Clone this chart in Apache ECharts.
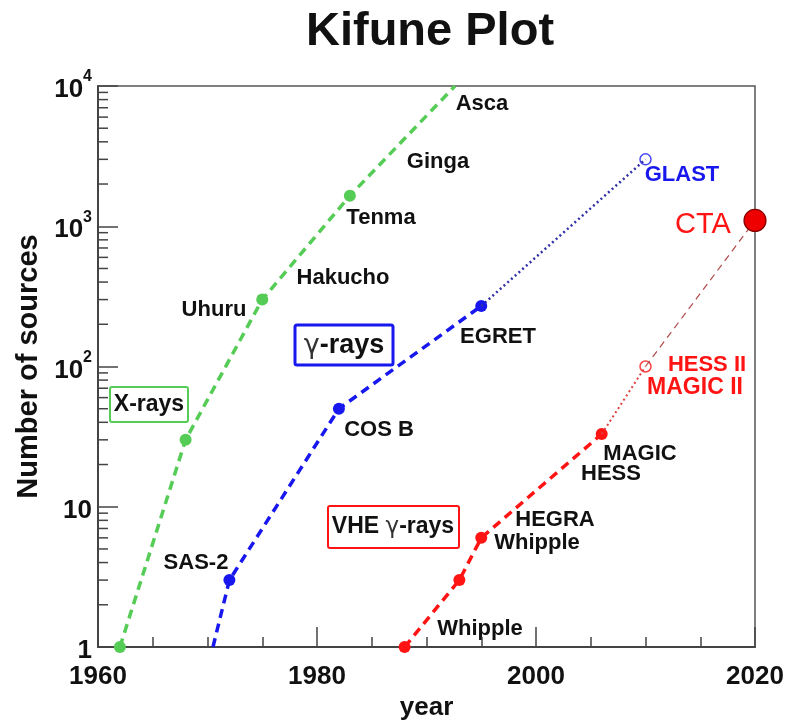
<!DOCTYPE html>
<html>
<head>
<meta charset="utf-8">
<script src="https://cdn.jsdelivr.net/npm/echarts@6/dist/echarts.min.js"></script>
<style>
  html, body { margin: 0; padding: 0; background: #fff; }
  #chart { width: 788px; height: 722px; }
</style>
</head>
<body>
<div id="chart"></div>
<script>
// X-ray satellites (green)
const xrayYears = [1962, 1968, 1975, 1983];
const xrayCounts = [1, 30, 300, 1650];
const xrayTrendYear = 1992.6;   // dashed trend leaves the frame at the top
const xrayTrendCount = 10000;

// gamma-ray satellites (blue)
const gammaStartYear = 1970.5;
const gammaStartCount = 1;
const gammaYears = [1972, 1982, 1995];
const gammaCounts = [3, 50, 270];
const glastYear = 2010;
const glastCount = 3000;

// VHE gamma-ray telescopes (red)
const vheYears = [1988, 1993, 1995, 2006];
const vheCounts = [1, 3, 6, 33];
const hess2Year = 2010;
const hess2Count = 100;
const ctaYear = 2020;
const ctaCount = 1100;

// axes
const xTickLabels = ["1960", "1980", "2000", "2020"];
const yTickBase = ["1", "10", "10", "10", "10"];
const yTickExp = ["", "", "2", "3", "4"];
const yMinorTicks = [];
for (let k = 0; k < 4; k++) {
  for (let m = 2; m <= 9; m++) yMinorTicks.push(m * Math.pow(10, k));
}

const FONT = '"Liberation Sans", Arial, sans-serif';
const GREEN = "#55cc55";
const BLUE = "#1818ee";
const RED = "#ff1414";

const zip = (xs, ys) => xs.map((x, i) => [x, ys[i]]);

function label(text, x, y, color, size, weight) {
  return {
    type: "text",
    x, y,
    style: {
      text,
      fill: color || "#111",
      font: (weight || "bold") + " " + (size || 22) + "px " + FONT,
      align: "center",
      verticalAlign: "middle",
      textAlign: "center",
      textVerticalAlign: "middle",
    },
  };
}

function boxed(x, y, w, h, color, lw) {
  return {
    type: "rect",
    shape: { x, y, width: w, height: h, r: 2 },
    style: { fill: "none", stroke: color, lineWidth: lw },
  };
}

function gammaText(text, x, y, size) {
  return {
    type: "text",
    x, y,
    style: {
      text,
      align: "center",
      verticalAlign: "middle",
      textAlign: "center",
      textVerticalAlign: "middle",
      rich: {
        b: { fontFamily: FONT, fontWeight: "bold", fontSize: size, fill: "#111", color: "#111" },
        g: { fontFamily: '"DejaVu Sans", sans-serif', fontWeight: "normal", fontSize: size, fill: "#333", color: "#333" },
      },
    },
  };
}

const chart = echarts.init(document.getElementById("chart"), null, { renderer: "canvas" });

chart.setOption({
  animation: false,
  backgroundColor: "#fff",
  title: {
    text: "Kifune Plot",
    left: 301,
    top: 4,
    textStyle: { fontFamily: FONT, fontSize: 47, fontWeight: "bold", color: "#111" },
  },
  grid: {
    left: 98, top: 86, right: 33, bottom: 75,
    containLabel: false,
    outerBoundsMode: "none",
    show: true, borderColor: "#555", borderWidth: 1.5,
  },
  xAxis: {
    type: "value",
    min: 1960, max: 2020, interval: 20,
    name: "year",
    nameLocation: "middle",
    nameGap: 48,
    nameTextStyle: { fontFamily: FONT, fontSize: 26, fontWeight: "bold", color: "#111" },
    axisLine: { lineStyle: { color: "#444", width: 2 } },
    axisTick: { inside: true, length: 20, lineStyle: { color: "#444", width: 1.5 } },
    minorTick: { show: true, splitNumber: 4, length: 10, lineStyle: { color: "#444", width: 1.5 } },
    splitLine: { show: false },
    axisLabel: {
      margin: 17,
      fontFamily: FONT, fontSize: 26, fontWeight: "bold", color: "#111",
      formatter: (v) => xTickLabels[Math.round((v - 1960) / 20)] || "",
    },
  },
  yAxis: {
    type: "log",
    logBase: 10,
    min: 1, max: 10000,
    splitNumber: 4,
    name: "Number of sources",
    nameLocation: "middle",
    nameGap: 53,
    nameTextStyle: { fontFamily: FONT, fontSize: 29, fontWeight: "bold", color: "#111" },
    axisLine: { lineStyle: { color: "#444", width: 2 } },
    axisTick: { inside: true, length: 20, lineStyle: { color: "#444", width: 1.5 } },
    splitLine: { show: false },
    axisLabel: {
      margin: 6,
      formatter: (v) => {
        const i = Math.round(Math.log10(v));
        return "{b|" + yTickBase[i] + "}" + (yTickExp[i] ? "{s|" + yTickExp[i] + "}" : "");
      },
      rich: {
        b: { fontFamily: FONT, fontSize: 26, fontWeight: "bold", color: "#111", lineHeight: 34, verticalAlign: "bottom" },
        s: { fontFamily: FONT, fontSize: 16, fontWeight: "bold", color: "#111", lineHeight: 14, verticalAlign: "top" },
      },
    },
  },
  series: [
    {
      name: "minor ticks",
      type: "custom",
      silent: true,
      clip: false,
      data: yMinorTicks.map((v) => [1960, v]),
      renderItem: (params, api) => {
        const p = api.coord([api.value(0), api.value(1)]);
        return {
          type: "line",
          shape: { x1: p[0], y1: p[1], x2: p[0] + 10, y2: p[1] },
          style: { stroke: "#444", lineWidth: 1.5 },
        };
      },
    },
    {
      name: "X-rays trend",
      type: "line",
      showSymbol: false,
      silent: true,
      data: zip([...xrayYears, xrayTrendYear], [...xrayCounts, xrayTrendCount]),
      lineStyle: { color: GREEN, width: 3.5, type: [9, 6] },
    },
    {
      name: "gamma trend",
      type: "line",
      showSymbol: false,
      silent: true,
      data: zip([gammaStartYear, ...gammaYears], [gammaStartCount, ...gammaCounts]),
      lineStyle: { color: BLUE, width: 3.5, type: [9, 6] },
    },
    {
      name: "gamma future",
      type: "line",
      showSymbol: false,
      silent: true,
      data: [[gammaYears[gammaYears.length - 1], gammaCounts[gammaCounts.length - 1]], [glastYear, glastCount]],
      lineStyle: { color: "#3030a8", width: 2.5, type: [2, 3] },
    },
    {
      name: "VHE trend",
      type: "line",
      showSymbol: false,
      silent: true,
      data: zip(vheYears, vheCounts),
      lineStyle: { color: RED, width: 3.5, type: [9, 6] },
    },
    {
      name: "VHE future",
      type: "line",
      showSymbol: false,
      silent: true,
      data: [[vheYears[vheYears.length - 1], vheCounts[vheCounts.length - 1]], [hess2Year, hess2Count]],
      lineStyle: { color: "#e04040", width: 2, type: [2, 3] },
    },
    {
      name: "CTA trend",
      type: "line",
      showSymbol: false,
      silent: true,
      data: [[hess2Year, hess2Count], [ctaYear, ctaCount]],
      lineStyle: { color: "#b04848", width: 1.2, type: [7, 5] },
    },
    {
      name: "X-ray points",
      type: "scatter",
      symbolSize: 12,
      clip: false,
      itemStyle: { color: GREEN, opacity: 1 },
      data: zip(xrayYears, xrayCounts),
    },
    {
      name: "gamma points",
      type: "scatter",
      symbolSize: 12,
      itemStyle: { color: BLUE, opacity: 1 },
      data: zip(gammaYears, gammaCounts),
    },
    {
      name: "VHE points",
      type: "scatter",
      symbolSize: 12,
      clip: false,
      itemStyle: { color: RED, opacity: 1 },
      data: zip(vheYears, vheCounts),
    },
    {
      name: "planned",
      type: "scatter",
      symbolSize: 11,
      data: [
        { value: [glastYear, glastCount], itemStyle: { color: "#fff", borderColor: BLUE, borderWidth: 1.5 } },
        { value: [hess2Year, hess2Count], itemStyle: { color: "#fff", borderColor: RED, borderWidth: 1.5 } },
      ],
    },
    {
      name: "CTA",
      type: "scatter",
      symbolSize: 22,
      clip: false,
      z: 5,
      itemStyle: { color: "#ee0000", borderColor: "#8a0000", borderWidth: 1.2, opacity: 1 },
      data: [[ctaYear, ctaCount]],
    },
  ],
  graphic: [
    label("Asca", 482, 104),
    label("Ginga", 438, 162),
    label("Tenma", 381, 218),
    label("Hakucho", 343, 278),
    label("Uhuru", 214, 310),
    label("EGRET", 498, 337),
    label("GLAST", 682, 175, BLUE),
    label("CTA", 703, 225, RED, 29, "normal"),
    label("HESS II", 707, 365, RED),
    label("MAGIC II", 695, 388, RED, 23),
    label("COS B", 379, 430),
    label("SAS-2", 196, 563),
    label("MAGIC", 640, 454),
    label("HESS", 611, 474),
    label("HEGRA", 555, 520),
    label("Whipple", 537, 543),
    label("Whipple", 480, 629),
    boxed(110, 387, 78, 35, GREEN, 2),
    label("X-rays", 149, 405, "#111", 23),
    boxed(295, 325, 98, 40, BLUE, 3),
    gammaText("{g|γ}{b|-rays}", 344, 346, 27),
    boxed(328, 506, 131, 42, RED, 2),
    gammaText("{b|VHE }{g|γ}{b|-rays}", 393, 527, 23),
  ],
});
</script>
</body>
</html>
